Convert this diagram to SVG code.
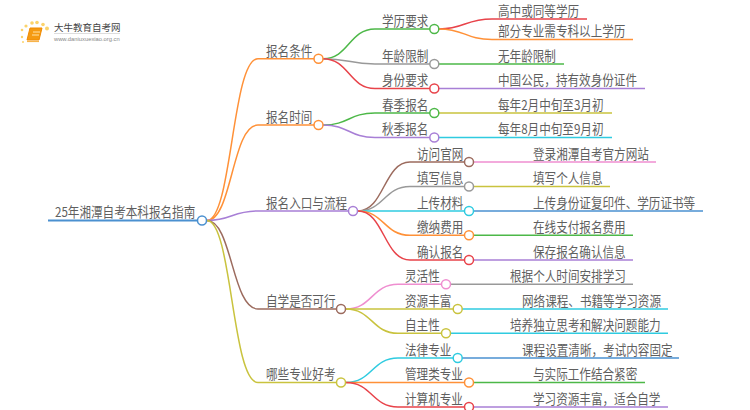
<svg xmlns="http://www.w3.org/2000/svg" width="750" height="410" viewBox="0 0 750 410">
<style>
text{font-family:"Noto Sans CJK SC","Liberation Sans",sans-serif;font-size:11.6px;fill:#5f5f5f}
g:not(#logo)>text{transform-box:fill-box;transform-origin:0 100%;transform:translateY(1px) scaleY(1.14)}
path{fill:none;stroke-width:1.5}
circle.n{fill:#fff;stroke-width:1.5}
.o{stroke:#ff9138}.g{stroke:#4db848}.h{stroke:#999}.r{stroke:#e8434a}.p{stroke:#a87fd6}.b{stroke:#9c6b5e}.k{stroke:#ef8ed0}.y{stroke:#c9c33e}.c{stroke:#2fcbe0}.u{stroke:#4a90d0}
</style>
<rect width="750" height="410" fill="#fff"/>
<g id="logo">
<g fill="#fbd36b"><circle cx="32" cy="23" r="1.800"/><circle cx="37" cy="22.500" r="1.800"/><circle cx="26" cy="26" r="1.600"/><circle cx="43" cy="24.500" r="1.800"/><circle cx="47" cy="28.500" r="2"/><circle cx="22" cy="30" r="1.300"/><circle cx="22" cy="37" r="1.200"/><circle cx="23" cy="42" r="1"/></g>
<path d="M30 28L42 28L39 40L27 40Z" style="fill:#f59a12;stroke:#f08a00;stroke-width:1"/>
<path d="M27 41.500L39 41.500" style="stroke:#f8b44a;stroke-width:1.200"/>
<path d="M33 32L40 32M32 35L39 35" style="stroke:#ffe3a8;stroke-width:1"/>
<line x1="54" y1="33.500" x2="120" y2="33.500" stroke="#ddd" stroke-width="1"/>
<text x="54" y="31" style="font-size:9.500px;fill:#444">大牛教育自考网</text>
<text x="54" y="40.500" style="font-size:5.800px;fill:#888;font-family:'Liberation Sans',sans-serif">www.daniuxuexiao.org.cn</text>
</g>
<g id="connectors">
<path class="u" style="stroke-width:2" d="M48 220.500H197"/>
<path class="o" d="M207 220.500C232 220.500 232 58.700 258 58.700H314"/>
<path class="o" d="M207 220.500C232 220.500 232 125 258 125H314"/>
<path class="p" d="M207 220.500C232 220.500 232 211 258 211H348.500"/>
<path class="b" d="M207 220.500C232 220.500 232 309 258 309H336.500"/>
<path class="y" d="M207 220.500C232 220.500 232 382.500 258 382.500H336.500"/>
<path class="g" d="M323 58.700C349 58.700 349 29 375 29H430"/>
<path class="h" d="M323 58.700C349 58.700 349 64 375 64H430"/>
<path class="r" d="M323 58.700C349 58.700 349 88.500 375 88.500H430"/>
<path class="g" d="M323 125C349 125 349 113 375 113H430"/>
<path class="p" d="M323 125C349 125 349 137.500 375 137.500H430"/>
<path class="r" d="M439 29C465 29 465 19 492 19H587"/>
<path class="o" d="M439 29C465 29 465 39.500 492 39.500H633"/>
<path class="g" d="M439 64H564"/>
<path class="p" d="M439 88.500H645"/>
<path class="y" d="M439 113H612"/>
<path class="c" d="M439 137.500H612"/>
<path class="b" d="M358 211C384 211 384 162 410 162H464.500"/>
<path class="h" d="M358 211C384 211 384 186.500 410 186.500H464.500"/>
<path class="c" d="M358 211H464.500"/>
<path class="o" d="M358 211C384 211 384 235.300 410 235.300H464.500"/>
<path class="r" d="M358 211C384 211 384 260 410 260H464.500"/>
<path class="k" d="M473.500 162H656"/>
<path class="y" d="M473.500 186.500H610"/>
<path class="u" d="M473.500 211H703"/>
<path class="g" d="M473.500 235.300H633"/>
<path class="p" d="M473.500 260H633"/>
<path class="k" d="M346 309C372 309 372 284.300 398 284.300H441.500"/>
<path class="y" d="M346 309H453"/>
<path class="y" d="M346 309C372 309 372 333.300 398 333.300H441.500"/>
<path class="h" d="M450.500 284.300H633"/>
<path class="c" d="M462 309H668"/>
<path class="c" d="M450.500 333.300H668"/>
<path class="c" d="M346 382.500C372 382.500 372 358 398 358H453"/>
<path class="o" d="M346 382.500H464.500"/>
<path class="r" d="M346 382.500C372 382.500 372 407 398 407H464.500"/>
<path class="u" d="M462 358H679"/>
<path class="g" d="M473.500 382.500H645"/>
<path class="p" d="M473.500 407H668"/>
</g>
<g id="root"><text x="55" y="217">25年湘潭自考本科报名指南</text><circle class="n u" cx="202" cy="220.500" r="4.500"/></g>
<g id="n1"><text x="266" y="55.300">报名条件</text><circle class="n o" cx="318.500" cy="58.700" r="4.500"/></g>
<g id="n2"><text x="266" y="121.600">报名时间</text><circle class="n o" cx="318.500" cy="125" r="4.500"/></g>
<g id="n3"><text x="266" y="207.600">报名入口与流程</text><circle class="n p" cx="353" cy="211" r="4.500"/></g>
<g id="n4"><text x="266" y="305.600">自学是否可行</text><circle class="n b" cx="341" cy="309" r="4.500"/></g>
<g id="n5"><text x="266" y="379">哪些专业好考</text><circle class="n y" cx="341" cy="382.500" r="4.500"/></g>
<g id="n11"><text x="382" y="25.600">学历要求</text><circle class="n g" cx="434.300" cy="29" r="4.500"/></g>
<g id="n12"><text x="382" y="60.600">年龄限制</text><circle class="n h" cx="434.300" cy="64" r="4.500"/></g>
<g id="n13"><text x="382" y="85">身份要求</text><circle class="n r" cx="434.300" cy="88.500" r="4.500"/></g>
<g id="n21"><text x="382" y="109.600">春季报名</text><circle class="n g" cx="434.300" cy="113" r="4.500"/></g>
<g id="n22"><text x="382" y="134">秋季报名</text><circle class="n p" cx="434.300" cy="137.500" r="4.500"/></g>
<g id="n31"><text x="417" y="158.600">访问官网</text><circle class="n b" cx="469" cy="162" r="4.500"/></g>
<g id="n32"><text x="417" y="183">填写信息</text><circle class="n h" cx="469" cy="186.500" r="4.500"/></g>
<g id="n33"><text x="417" y="207.600">上传材料</text><circle class="n c" cx="469" cy="211" r="4.500"/></g>
<g id="n34"><text x="417" y="231.900">缴纳费用</text><circle class="n o" cx="469" cy="235.300" r="4.500"/></g>
<g id="n35"><text x="417" y="256.600">确认报名</text><circle class="n r" cx="469" cy="260" r="4.500"/></g>
<g id="n41"><text x="405" y="280.900">灵活性</text><circle class="n k" cx="446" cy="284.300" r="4.500"/></g>
<g id="n42"><text x="405" y="305.600">资源丰富</text><circle class="n y" cx="457.700" cy="309" r="4.500"/></g>
<g id="n43"><text x="405" y="329.900">自主性</text><circle class="n y" cx="446" cy="333.300" r="4.500"/></g>
<g id="n51"><text x="405" y="354.600">法律专业</text><circle class="n c" cx="457.700" cy="358" r="4.500"/></g>
<g id="n52"><text x="405" y="379">管理类专业</text><circle class="n o" cx="469" cy="382.500" r="4.500"/></g>
<g id="n53"><text x="405" y="403.600">计算机专业</text><circle class="n r" cx="469" cy="407" r="4.500"/></g>
<g id="leaves">
<text x="498" y="15.600">高中或同等学历</text>
<text x="498" y="36">部分专业需专科以上学历</text>
<text x="498" y="60.600">无年龄限制</text>
<text x="498" y="85">中国公民，持有效身份证件</text>
<text x="498" y="109.600">每年2月中旬至3月初</text>
<text x="498" y="134">每年8月中旬至9月初</text>
<text x="533" y="158.600">登录湘潭自考官方网站</text>
<text x="533" y="183">填写个人信息</text>
<text x="533" y="207.600">上传身份证复印件、学历证书等</text>
<text x="533" y="231.900">在线支付报名费用</text>
<text x="533" y="256.600">保存报名确认信息</text>
<text x="510" y="280.900">根据个人时间安排学习</text>
<text x="522" y="305.600">网络课程、书籍等学习资源</text>
<text x="510" y="329.900">培养独立思考和解决问题能力</text>
<text x="522" y="354.600">课程设置清晰，考试内容固定</text>
<text x="533" y="379">与实际工作结合紧密</text>
<text x="533" y="403.600">学习资源丰富，适合自学</text>
</g>
</svg>
